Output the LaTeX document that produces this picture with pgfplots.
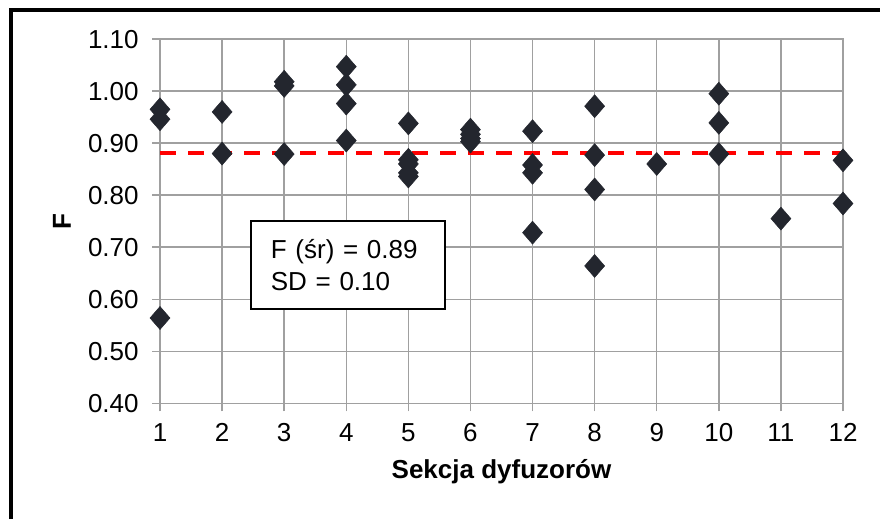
\documentclass[border=0pt]{standalone}
\usepackage{fontspec}
\setmainfont{Liberation Sans}
\usepackage{pgfplots}
\usepackage{pgfplotstable}
\pgfplotsset{compat=1.18}
\definecolor{mk}{RGB}{35,38,46}
\definecolor{gridc}{RGB}{160,160,160}
\pgfplotstableread{
x y
1 0.965
1 0.946
1 0.564
2 0.960
2 0.880
3 1.018
3 1.010
3 0.879
4 1.047
4 1.012
4 0.976
4 0.905
5 0.938
5 0.868
5 0.860
5 0.843
5 0.836
6 0.926
6 0.917
6 0.909
6 0.903
7 0.923
7 0.858
7 0.843
7 0.728
8 0.971
8 0.877
8 0.811
8 0.664
9 0.860
10 0.995
10 0.939
10 0.879
11 0.755
12 0.867
12 0.784
}\datatable
\begin{document}
\begin{tikzpicture}
\useasboundingbox (-120pt,-86.8pt) rectangle (540pt,302.5pt);
\begin{axis}[
  at={(0,0)}, anchor=south west,
  scale only axis, width=512.25pt, height=273.2pt,
  xmin=1, xmax=12, ymin=0.4, ymax=1.1,
  xtick={1,2,3,4,5,6,7,8,9,10,11,12},
  ytick={0.4,0.5,0.6,0.7,0.8,0.9,1.0,1.1},
  yticklabel style={xshift=-6.5pt, /pgf/number format/.cd, fixed, fixed zerofill, precision=2},
  xticklabel style={yshift=-5.5pt},
  /pgf/number format/assume math mode=true,
  font=\fontsize{19.5}{23}\selectfont,
  grid=major, grid style={gridc, line width=1.1pt},
  axis line style={gridc, line width=1.1pt},
  tick style={gridc, line width=1.1pt}, tick align=outside, major tick length=6pt,
  xtick pos=bottom, ytick pos=left,
  xlabel={\bfseries Sekcja dyfuzorów}, ylabel={\bfseries F},
  xlabel style={at={(axis description cs:0.5,-0.205)}, anchor=base},
  ylabel style={at={(axis description cs:-0.1435,0.5)}, anchor=center},
  clip=false,
]
\addplot[only marks, mark=diamond*, mark size=8.6pt, mk, mark options={xscale=1.16, fill=mk, draw=mk}] table[x=x,y=y] {\datatable};
\addplot[red, line width=3pt, dash pattern=on 12pt off 9pt] coordinates {(1,0.881) (12,0.881)};
\node[draw=black, line width=1.3pt, fill=white, anchor=north west, minimum width=145.5pt, minimum height=66pt, text width=115.5pt, inner xsep=15pt, align=left, font=\fontsize{19.5}{23.3}\selectfont] at (axis cs:2.45,0.752) {F (śr) = 0.89\\SD = 0.10};
\end{axis}
\draw[line width=3.2pt] (-111.5pt,-86.8pt) -- (-111.5pt,295.2pt) -- (540pt,295.2pt);
\end{tikzpicture}
\end{document}
